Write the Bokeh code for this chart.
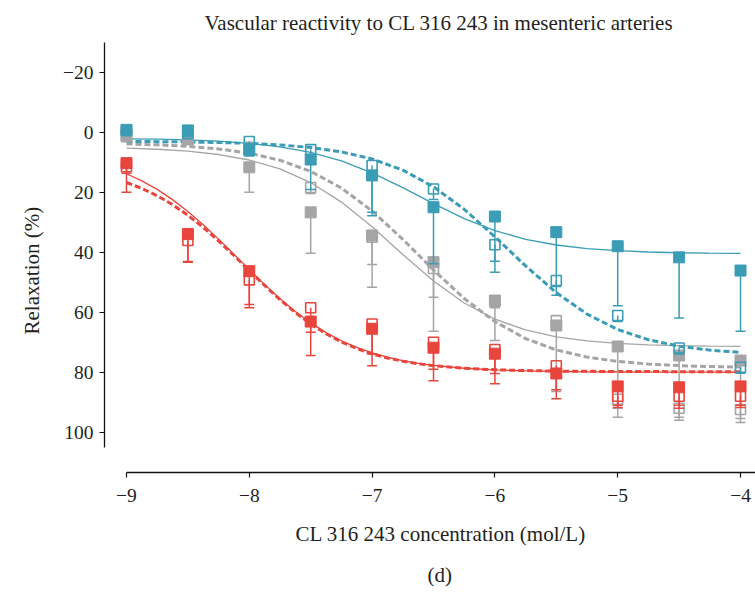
from bokeh.plotting import figure
from bokeh.models import Range1d, FixedTicker, Title
from bokeh.embed import file_html
from bokeh.resources import INLINE

# ---- data ----
log_conc = [-9.0, -8.5, -8.0, -7.5, -7.0, -6.5, -6.0, -5.5, -5.0, -4.5, -4.0]

teal_filled = [-0.8, -0.6, 5.9, 9.1, 14.4, 25.0, 28.1, 33.3, 38.0, 41.7, 46.1]
teal_filled_err = [0.5, 1.0, 2.0, 10.0, 13.4, 18.8, 18.6, 21.0, 19.8, 20.2, 20.2]
teal_open = [-0.5, 0.5, 3.1, 5.8, 11.1, 18.9, 37.5, 49.4, 61.1, 71.9, 78.3]
teal_open_err = [0.5, 1.0, 2.5, 3.0, 15.6, 3.5, 5.5, 2.0, 2.0, 2.0, 2.0]

gray_filled = [1.0, 2.1, 11.7, 26.7, 34.4, 43.3, 56.1, 64.4, 71.4, 74.4, 76.1]
gray_filled_err = [1.0, 1.5, 8.3, 13.6, 17.3, 23.0, 13.3, 22.0, 23.6, 21.6, 20.6]
gray_open = [1.5, 2.5, 5.0, 18.4, 35.0, 45.4, 56.5, 62.8, 89.0, 92.0, 92.4]
gray_open_err = [1.0, 1.0, 2.0, 2.0, 9.1, 9.6, 2.0, 3.0, 3.0, 3.0, 3.0]

red_filled = [10.3, 33.9, 46.3, 63.1, 65.5, 71.8, 73.8, 80.4, 84.7, 85.0, 84.7]
red_filled_err = [9.7, 9.4, 11.1, 11.3, 12.3, 11.0, 10.0, 8.4, 7.0, 7.0, 7.0]
red_open = [11.5, 36.1, 49.2, 58.5, 63.9, 70.0, 72.4, 77.8, 88.0, 88.0, 88.0]
red_open_err = [2.2, 7.0, 9.3, 8.2, 10.0, 9.0, 8.0, 8.0, 3.0, 3.0, 3.0]

# fitted curves
curve_x = [-9.0, -8.75, -8.5, -8.25, -8.0, -7.75, -7.5, -7.25, -7.0, -6.75, -6.5,
           -6.25, -6.0, -5.75, -5.5, -5.25, -5.0, -4.75, -4.5, -4.25, -4.0]
teal_fit_solid = [2.19, 2.33, 2.57, 2.99, 3.69, 4.86, 6.73, 9.58, 13.53, 18.47, 23.80,
                  28.77, 32.78, 35.68, 37.58, 38.78, 39.49, 39.92, 40.17, 40.31, 40.39]
teal_fit_dashed = [3.08, 3.14, 3.24, 3.42, 3.72, 4.23, 5.09, 6.54, 8.91, 12.62, 18.17,
                   25.68, 34.85, 44.57, 53.46, 60.61, 65.74, 69.16, 71.30, 72.62, 73.39]
gray_fit_solid = [5.31, 5.68, 6.33, 7.43, 9.26, 12.23, 16.77, 23.28, 31.52, 40.76, 49.56,
                  56.91, 62.30, 65.90, 68.17, 69.56, 70.37, 70.85, 71.13, 71.29, 71.38]
gray_fit_dashed = [3.91, 4.20, 4.71, 5.56, 6.99, 9.34, 13.04, 18.59, 26.23, 35.69, 45.90,
                   55.40, 63.12, 68.77, 72.55, 74.94, 76.39, 77.27, 77.78, 78.08, 78.26]
red_curve_x = [-9.0, -8.875, -8.75, -8.625, -8.5, -8.375, -8.25, -8.125, -8.0, -7.875,
               -7.75, -7.625, -7.5, -7.375, -7.25, -7.125, -7.0, -6.875, -6.75, -6.625,
               -6.5, -6.25, -6.0, -5.75, -5.5, -5.25, -5.0, -4.75, -4.5, -4.25, -4.0]
red_fit_solid = [13.84, 16.21, 19.06, 22.46, 26.39, 30.82, 35.62, 40.65, 45.79, 50.79,
                 55.47, 59.74, 63.55, 66.78, 69.51, 71.73, 73.54, 74.99, 76.12, 77.02,
                 77.71, 78.66, 79.21, 79.54, 79.74, 79.85, 79.91, 79.95, 79.97, 79.98, 79.99]
red_fit_dashed = [16.76, 18.73, 21.17, 24.14, 27.67, 31.72, 36.24, 41.09, 46.11, 51.06,
                  55.77, 60.09, 63.90, 67.15, 69.86, 72.07, 73.84, 75.24, 76.32, 77.15,
                  77.80, 78.66, 79.16, 79.44, 79.60, 79.68, 79.74, 79.77, 79.79, 79.79, 79.79]

x_ticks = [-9, -8, -7, -6, -5, -4]
x_tick_labels = ["\u22129", "\u22128", "\u22127", "\u22126", "\u22125", "\u22124"]
y_ticks = [-20, 0, 20, 40, 60, 80, 100]
y_tick_labels = ["\u221220", "0", "20", "40", "60", "80", "100"]

title_text = "Vascular reactivity to CL 316 243 in mesenteric arteries"
x_label_text = "CL 316 243 concentration (mol/L)"
y_label_text = "Relaxation (%)"
panel_text = "(d)"

TEAL = "#3a9cb5"
GRAY = "#a5a5a7"
RED = "#e8453d"
FONT = "Liberation Serif"
TXT = "#231f20"

W, H = 755, 593
LEFT, TOP, BOTTOM = 103, 42, 472
p = figure(width=W, height=H, output_backend="svg", toolbar_location=None,
           x_range=Range1d(-9.179, -3.878), y_range=Range1d(113.4, -29.9),
           min_border_left=LEFT, min_border_right=0, min_border_top=TOP,
           min_border_bottom=H - BOTTOM)
p.outline_line_color = None
p.grid.visible = False
p.background_fill_color = "white"
p.border_fill_color = "white"

# axes
p.xaxis.ticker = FixedTicker(ticks=x_ticks)
p.xaxis.major_label_overrides = {t: l for t, l in zip(x_ticks, x_tick_labels)}
p.xaxis.bounds = (-9, -3.878)
p.yaxis.ticker = FixedTicker(ticks=y_ticks)
p.yaxis.major_label_overrides = {t: l for t, l in zip(y_ticks, y_tick_labels)}
p.yaxis.bounds = (-30, 105)
for ax in (p.xaxis[0], p.yaxis[0]):
    ax.minor_tick_line_color = None
    ax.major_tick_in = 0
    ax.major_tick_out = 5
    ax.axis_line_color = "#111111"
    ax.axis_line_width = 1.3
    ax.major_tick_line_color = "#111111"
    ax.major_tick_line_width = 1.2
    ax.major_label_text_font = FONT
    ax.major_label_text_font_size = "19.5px"
    ax.major_label_text_color = TXT
p.xaxis.major_label_standoff = 11
p.yaxis.major_label_standoff = 6

# titles (left-aligned with pixel offsets so that they sit where the reference has them)
p.title.text = title_text
p.title.align = "left"
p.title.offset = 100
p.title.text_font = FONT
p.title.text_font_size = "21px"
p.title.text_font_style = "normal"
p.title.text_color = TXT
p.title.standoff = 16

p.add_layout(Title(text=x_label_text, align="left", offset=191,
                   text_font=FONT, text_font_size="21px", text_font_style="normal",
                   text_color=TXT, standoff=30), "below")
p.add_layout(Title(text=panel_text, align="left", offset=323,
                   text_font=FONT, text_font_size="21px", text_font_style="normal",
                   text_color=TXT, standoff=0), "below")
p.add_layout(Title(text=y_label_text, align="left", offset=138,
                   text_font=FONT, text_font_size="21px", text_font_style="normal",
                   text_color=TXT, standoff=34), "left")

# fitted curves
for xs, ys, col, dashed in [(curve_x, gray_fit_solid, GRAY, False),
                            (curve_x, gray_fit_dashed, GRAY, True),
                            (curve_x, teal_fit_solid, TEAL, False),
                            (curve_x, teal_fit_dashed, TEAL, True),
                            (red_curve_x, red_fit_solid, RED, False),
                            (red_curve_x, red_fit_dashed, RED, True)]:
    if dashed:
        p.line(xs, ys, line_color=col, line_width=3, line_dash="6 3")
    else:
        p.line(xs, ys, line_color=col, line_width=1.3)

# points with one-sided error bars
def draw(vals, errs, col, filled):
    lows = [v + e for v, e in zip(vals, errs)]
    p.segment(x0=log_conc, y0=vals, x1=log_conc, y1=lows, line_color=col, line_width=1.5)
    p.scatter(log_conc, lows, marker="dash", size=10, line_color=col, line_width=1.5)
    if filled:
        p.scatter(log_conc, vals, marker="square", size=11, fill_color=col, line_color=col,
                  line_width=1)
    else:
        p.scatter(log_conc, vals, marker="square", size=10, fill_color=None, line_color=col,
                  line_width=1.6)

draw(gray_filled, gray_filled_err, GRAY, True)
draw(gray_open, gray_open_err, GRAY, False)
draw(teal_filled, teal_filled_err, TEAL, True)
draw(teal_open, teal_open_err, TEAL, False)
draw(red_filled, red_filled_err, RED, True)
draw(red_open, red_open_err, RED, False)

open("out.html", "w").write(file_html(p, INLINE))
